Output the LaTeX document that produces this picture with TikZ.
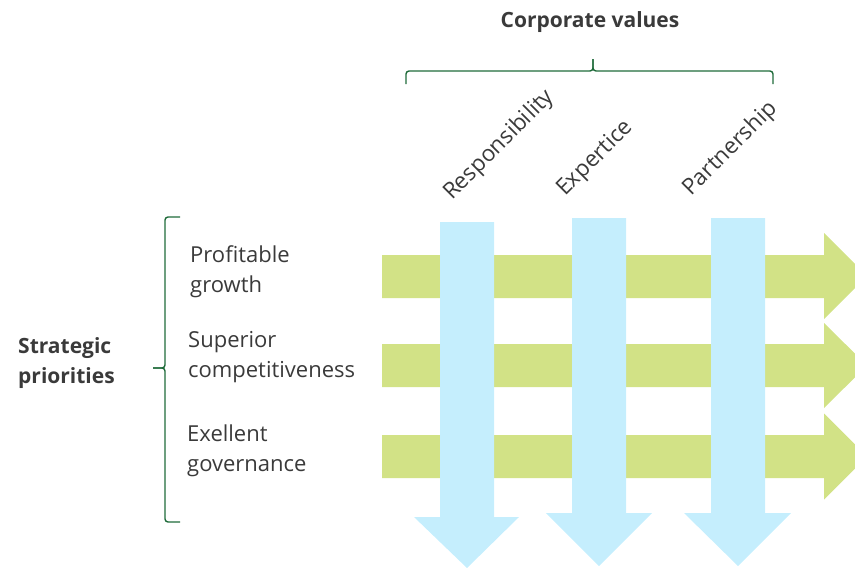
\documentclass[tikz,border=0pt]{standalone}
\usepackage{fontspec}
\setmainfont{Open Sans}
\definecolor{prioGreen}{HTML}{D2E286}
\definecolor{valBlue}{HTML}{C5EEFD}
\definecolor{braceGreen}{HTML}{1F6B3A}
\definecolor{txt}{HTML}{3A3A3A}
\begin{document}
\begin{tikzpicture}[x=1pt,y=-1pt,
  prio/.style={fill=prioGreen},
  valarrow/.style={fill=valBlue},
  bracket/.style={draw=braceGreen,line width=1.4pt,rounded corners=3pt},
  label/.style={inner sep=0pt,text=txt,font=\fontsize{22}{30}\selectfont,align=left},
  heading/.style={inner sep=0pt,text=txt,font=\fontsize{21}{29.5}\selectfont\bfseries,align=left},
  valuelabel/.style={inner sep=0pt,text=txt,font=\fontsize{22.5}{26}\selectfont,rotate=45,anchor=base west}]
\useasboundingbox (0,0) rectangle (855,568);
\clip (0,0) rectangle (855,568);

% horizontal arrows: strategic priorities
\foreach \yt/\yb/\ht/\hb in {255/298/233/319, 344/387/323/408, 435/478/413.5/499.5}{
  \path[prio] (382,\yt) -- (824,\yt) -- (824,\ht) -- (867,{(\ht+\hb)/2}) -- (824,\hb)
    -- (824,\yb) -- (382,\yb) -- cycle;
}

% vertical arrows: corporate values
\foreach \xl/\xr/\yt/\yh/\hl/\hr/\ty in {440/494/222/517/414/519/568, 572/626/218/513/546/652/566, 711/765/218/513/684/791/566}{
  \path[valarrow] (\xl,\yt) -- (\xr,\yt) -- (\xr,\yh) -- (\hr,\yh) -- ({(\xl+\xr)/2},\ty)
    -- (\hl,\yh) -- (\xl,\yh) -- cycle;
}

% headings (base anchor sits on the last line)
\node[heading,anchor=base] (cv) at (590,27) {Corporate values};
\node[heading,anchor=base west] (sp) at (18,383) {Strategic\\priorities};

% brace over the values
\coordinate (tbl) at (406,84);
\coordinate (tbm) at (593,59);
\coordinate (tbr) at (773,84);
\draw[bracket] (tbl) -- (406,71) -- (593,71) -- (tbm);
\draw[bracket] (tbm) -- (593,71) -- (773,71) -- (tbr);

% brace beside the priorities
\coordinate (lbt) at (180,217);
\coordinate (lbm) at (153,368);
\coordinate (lbb) at (180,522);
\draw[bracket] (lbt) -- (165,217) -- (165,368) -- (lbm);
\draw[bracket] (lbm) -- (165,368) -- (165,522) -- (lbb);

% priority labels
\node[label,anchor=base west] (p1) at (190,292) {Profitable\\growth};
\node[label,anchor=base west] (p2) at (188,377) {Superior\\competitiveness};
\node[label,anchor=base west] (p3) at (187,471) {Exellent\\governance};

% value labels
\node[valuelabel] (v1) at (452,201) {Responsibility};
\node[valuelabel] (v2) at (565,197) {Expertice};
\node[valuelabel] (v3) at (691,197) {Partnership};
\end{tikzpicture}
\end{document}
